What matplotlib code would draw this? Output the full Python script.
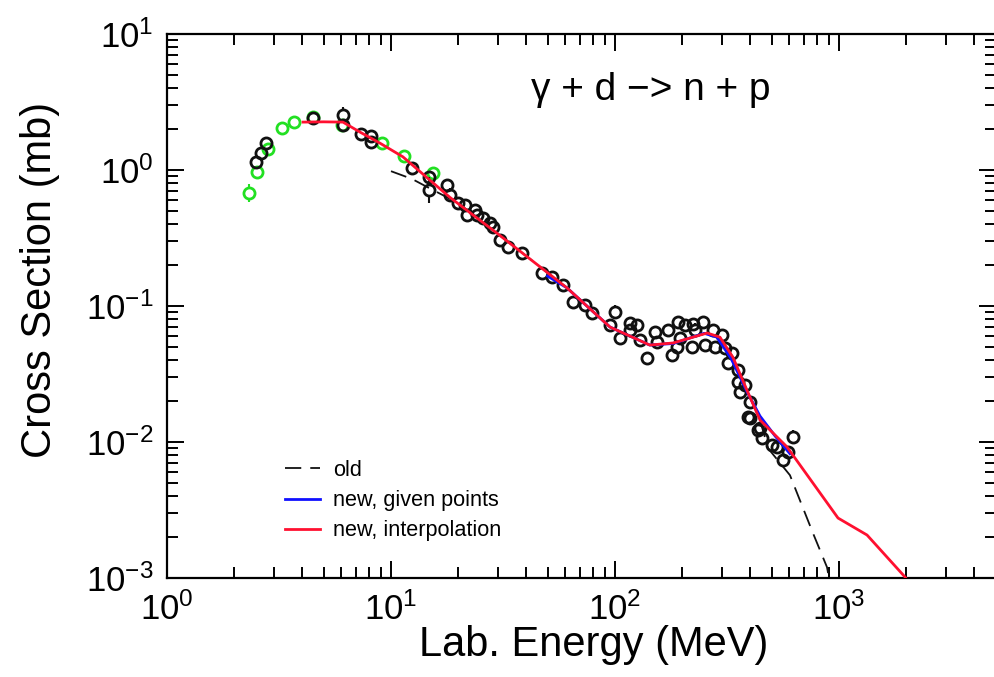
import matplotlib
matplotlib.use("Agg")
import matplotlib.pyplot as plt
from matplotlib.lines import Line2D
from matplotlib.ticker import LogLocator, NullFormatter
import numpy as np

plt.rcParams['font.family'] = ['Liberation Sans', 'DejaVu Sans']
plt.rcParams['mathtext.fontset'] = 'custom'
plt.rcParams['mathtext.rm'] = 'Liberation Sans'

# ---- data (E in MeV, cross section in mb) ----
green_E = [2.32, 2.52, 2.82, 3.26, 3.69, 4.48, 6.04, 9.12, 11.4, 15.4]
green_S = [0.677, 0.967, 1.43, 2.04, 2.25, 2.45, 2.14, 1.58, 1.27, 0.95]
green_err = [0.16, 0.04, 0.04, 0.04, 0.04, 0.04, 0.04, 0.04, 0.04, 0.04]

black_E = [2.50, 2.63, 2.77, 4.48, 6.1, 6.1, 7.35, 8.14, 8.14, 12.4,
           14.8, 14.8, 17.8, 18.3, 19.9, 21.4, 21.8, 23.7, 24.2, 25.8,
           27.7, 28.5, 30.7, 33.3, 38.5, 47.2, 52.3, 58.6, 65.0, 73.5,
           78.9, 100, 95.0, 105, 117, 125, 117, 129, 139, 151,
           154, 173, 180, 189, 191, 195, 205, 221, 223, 228,
           247, 252, 274, 279, 300, 310, 319, 333, 354, 354,
           361, 380, 401, 401, 444, 453, 392, 435, 502, 529,
           562, 592, 623]
black_S = [1.145, 1.33, 1.58, 2.41, 2.54, 2.14, 1.84, 1.78, 1.61, 1.03,
           0.888, 0.713, 0.776, 0.655, 0.572, 0.553, 0.467, 0.508, 0.467, 0.444,
           0.408, 0.381, 0.306, 0.272, 0.245, 0.175, 0.163, 0.143, 0.107, 0.102,
           0.0889, 0.0904, 0.0725, 0.0582, 0.075, 0.0725, 0.0667, 0.0562, 0.0415, 0.0644,
           0.0544, 0.0667, 0.0436, 0.050, 0.0762, 0.0582, 0.0725, 0.050, 0.0737, 0.0667,
           0.0762, 0.0516, 0.0667, 0.050, 0.0612, 0.0491, 0.0381, 0.0451, 0.0338, 0.0276,
           0.0233, 0.0262, 0.0197, 0.0150, 0.0127, 0.0107, 0.0153, 0.0123, 0.0095, 0.0092,
           0.0074, 0.0084, 0.0109]
black_err = [0.04, 0.04, 0.04, 0.04, 0.14, 0.04, 0.04, 0.04, 0.04, 0.04,
             0.06, 0.25, 0.05, 0.12, 0.10, 0.05, 0.10, 0.05, 0.05, 0.05,
             0.05, 0.05, 0.05, 0.05, 0.05, 0.05, 0.05, 0.05, 0.05, 0.05,
             0.05, 0.12, 0.05, 0.05, 0.05, 0.05, 0.05, 0.05, 0.05, 0.05,
             0.05, 0.05, 0.05, 0.05, 0.05, 0.05, 0.05, 0.05, 0.05, 0.12,
             0.05, 0.05, 0.05, 0.05, 0.05, 0.05, 0.05, 0.05, 0.05, 0.05,
             0.05, 0.05, 0.05, 0.05, 0.05, 0.05, 0.05, 0.05, 0.05, 0.05,
             0.05, 0.05, 0.12]

old_E = [10.0, 12.4, 14.5, 20.0, 30.0, 61, 95, 143, 182, 258, 294, 336, 388, 444,
         482, 604, 765, 884, 902]
old_S = [0.98, 0.86, 0.75, 0.57, 0.339, 0.136, 0.070, 0.0516, 0.0535, 0.0633,
         0.059, 0.042, 0.0241, 0.0145, 0.0090, 0.0057, 0.00214, 0.0012, 0.00100]

blue_E = [50, 61, 95, 143, 182, 250, 285, 330, 388, 444, 520, 604]
blue_S = [0.166, 0.136, 0.070, 0.0516, 0.0530, 0.0630, 0.0590, 0.0410, 0.0235,
          0.0155, 0.0110, 0.0082]

red_E = [4.05, 5.0, 6.1, 7.27, 8.9, 11.3, 18.3, 30.0, 61, 95, 143, 182, 258,
         294, 336, 388, 444, 586, 990, 1334, 1972, 2100]
red_S = [2.25, 2.26, 2.25, 1.9, 1.58, 1.25, 0.63, 0.339, 0.136, 0.070, 0.0516,
         0.0535, 0.0633, 0.059, 0.042, 0.0241, 0.0145, 0.0092, 0.00276, 0.00207,
         0.001016, 0.00088]

legend_labels = ["old", "new, given points", "new, interpolation"]
title_text = "\u03b3 + d \u2212> n + p"
xlabel = "Lab. Energy (MeV)"
ylabel = "Cross Section (mb)"

W, H = 994, 677
DEC_Y = 136.0  # pixels per decade on y
fig = plt.figure(figsize=(W / 100, H / 100), dpi=100)
ax = fig.add_axes([167 / W, (H - 578) / H, 3.699 * 224 / W, 544 / H])

MS = 8.0
rad_dec = (MS * 100 / 72 / 2) / DEC_Y  # marker radius in decades


def draw_points(E, S, rel, color, z):
    E = np.asarray(E, float)
    S = np.asarray(S, float)
    r = np.asarray(rel, float)
    lo = S / (1 + r)
    hi = S * (1 + r)
    edge_lo = S * 10 ** (-rad_dec)
    edge_hi = S * 10 ** (rad_dec)
    m = hi > edge_hi
    ax.vlines(E[m], edge_hi[m], hi[m], color=color, lw=1.5, zorder=z)
    m = lo < edge_lo
    ax.vlines(E[m], lo[m], edge_lo[m], color=color, lw=1.5, zorder=z)
    ax.plot(E, S, 'o', mfc='none', mec=color, ms=MS, mew=2.0, ls='none',
            zorder=z)


draw_points(green_E, green_S, green_err, '#22e022', 3)
draw_points(black_E, black_S, black_err, '#111111', 4)

ax.plot(old_E, old_S, color='#111111', lw=1.3, ls=(0, (9, 5)), zorder=5)
ax.plot(blue_E, blue_S, color='#1010ff', lw=2.0, zorder=6)
ax.plot(red_E, red_S, color='#ff1030', lw=2.0, zorder=7)

ax.set_xscale('log')
ax.set_yscale('log')
ax.set_xlim(1, 5000)
ax.set_ylim(1e-3, 10)

for sp in ax.spines.values():
    sp.set_linewidth(1.6)
ax.tick_params(which='both', direction='in', top=True, right=True,
               labelsize=25, width=1.4)
ax.tick_params(which='major', length=12, pad=10)
ax.tick_params(which='minor', length=8)
ax.xaxis.set_major_locator(LogLocator(base=10, numticks=10))
ax.xaxis.set_minor_locator(LogLocator(base=10, subs=np.arange(2, 10), numticks=20))
ax.xaxis.set_minor_formatter(NullFormatter())
ax.yaxis.set_minor_locator(LogLocator(base=10, subs=np.arange(2, 10), numticks=20))
ax.yaxis.set_minor_formatter(NullFormatter())

fig.text(594 / W, 1 - 645 / H, xlabel, fontsize=30, ha='center', va='center')
fig.text(40 / W, 1 - 280 / H, ylabel, fontsize=30, ha='center', va='center',
         rotation=90)
fig.text(651 / W, 1 - 90 / H, title_text, fontsize=28, ha='center', va='center')

handles = [Line2D([], [], color='#111111', lw=1.3, ls=(0, (9, 5))),
           Line2D([], [], color='#1010ff', lw=2.0),
           Line2D([], [], color='#ff1030', lw=2.0)]
ax.legend(handles, legend_labels, loc='upper left',
          bbox_to_anchor=((285 - 167) / (3.699 * 224), (578 - 460) / 544),
          frameon=False, fontsize=15.6, handlelength=1.6, handletextpad=0.6,
          labelspacing=0.42, borderaxespad=0, borderpad=0)

fig.savefig('out.png', dpi=100)
